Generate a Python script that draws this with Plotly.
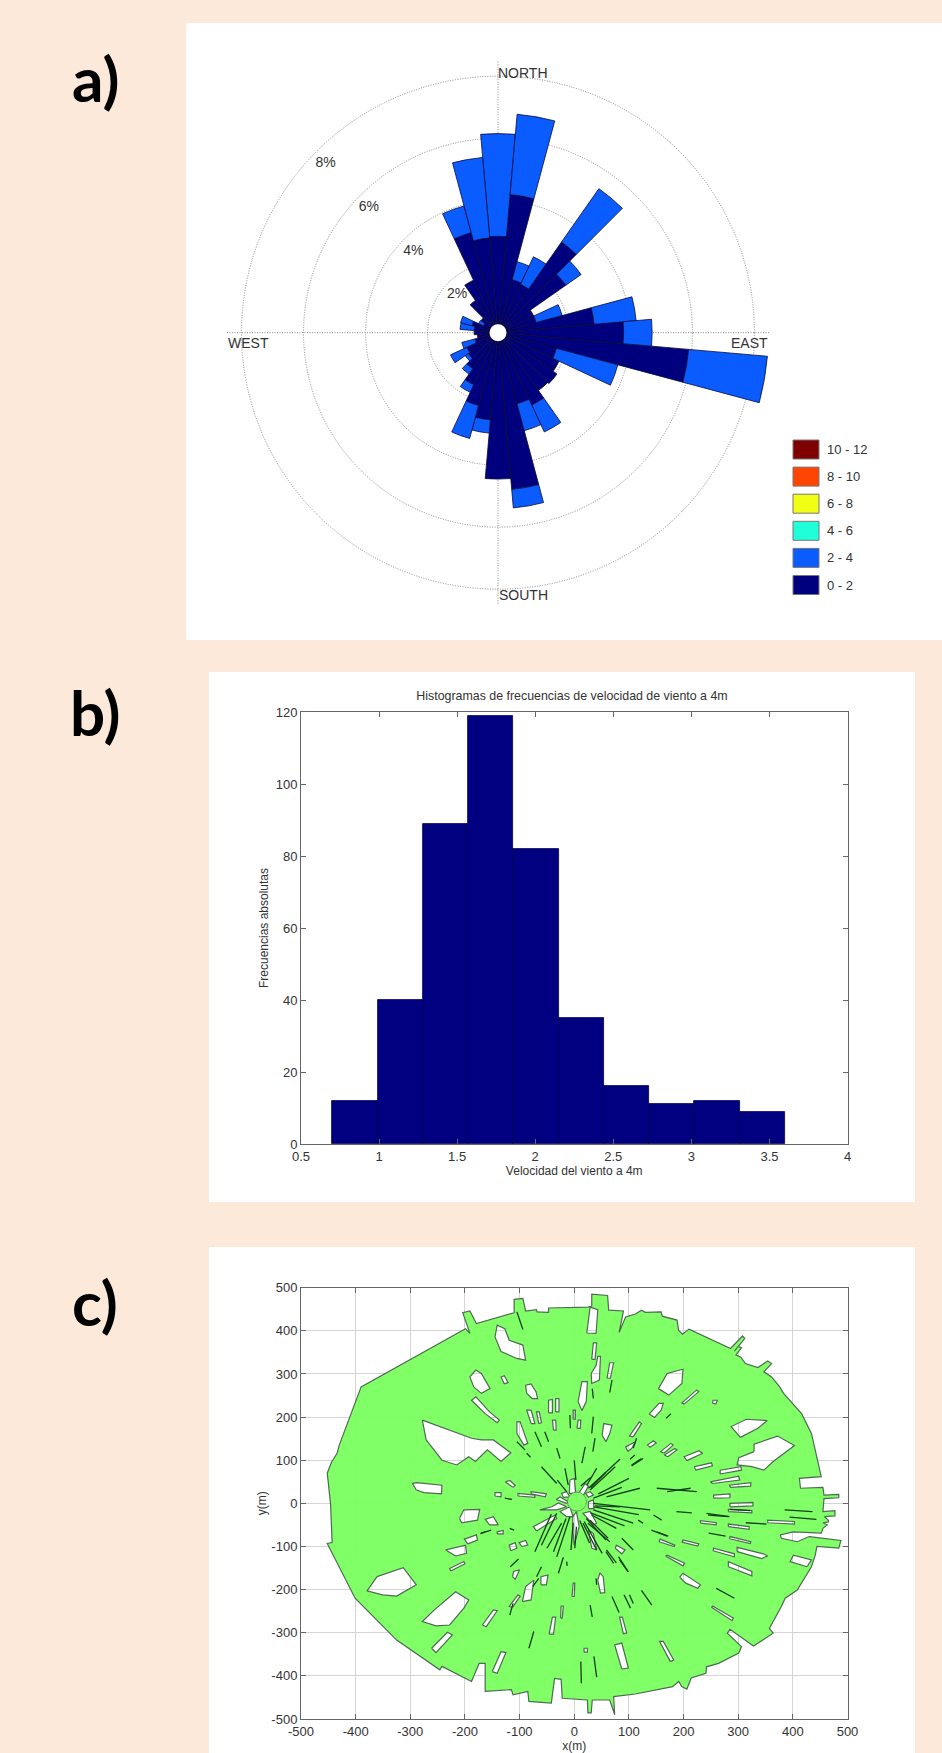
import plotly.graph_objects as go

W, H = 942, 1753
PAGE = "#FDE9D9"

# ---------- a) wind rose ----------
ROSE_DIR = [0,10,20,30,40,50,60,70,80,90,100,110,120,130,140,150,160,170,180,190,200,210,220,230,240,250,260,270,280,290,300,310,320,330,340,350]
ROSE_0_2 = [2.84,4.2,1.5,1.45,3.3,2.4,1.0,1.0,2.84,3.78,5.9,1.68,1.9,2.05,2.0,2.3,2.1,4.8,4.45,2.55,2.16,1.58,1.15,0.9,0.84,0.5,0.4,0.5,0.5,0.6,0.25,0.4,1.0,1.6,3.07,2.8]
ROSE_2_4 = [3.31,2.6,0.6,0.98,2.1,0.6,0,0.87,1.36,0.92,2.55,2.05,0,0,0,0.96,0.9,0.6,0,0.43,1.1,0.27,0.21,0.12,0.58,0.44,0,0,0.46,0.38,0.17,0,0,0,0.89,2.6]
RING_PCT = [2,4,6,8]
RING_LABEL_R = [1.53,3.52,5.52,7.52]
RING_LABEL_THETA = [313,314,314,314.5]
RING_LABELS = ["2%","4%","6%","8%"]
LEGEND_LABELS = ["10 - 12","8 - 10","6 - 8","4 - 6","2 - 4","0 - 2"]
LEGEND_COLORS = ["#7F0000","#FF4500","#F0FF14","#20FFD8","#0A5CFF","#00007F"]

# ---------- b) histogram ----------
HIST_CENTERS = [0.845,1.135,1.425,1.715,2.005,2.295,2.585,2.875,3.165,3.455]
HIST_COUNTS = [12,40,89,119,82,35,16,11,12,9]
HIST_BIN_WIDTH = 0.29

# ---------- c) viewshed map ----------
OUTLINE = [(-446,0),(-452,70),(-444,96),(-434,116),(-430,135),(-390,270),(-199,405),(-191,394),(-204,442),(-191,446),(-179,417),
(-110,442),(-110,473),(-94,475),(-89,446),(-69,449),(-68,444),(-47,443),(-47,453),(25,455),(32,457),(32,485),(61,482),(63,448),(90,446),
(82,396),(94,432),(112,439),(123,448),(130,443),(159,444),(161,434),(188,425),(191,401),(198,392),(210,404),(286,359),(308,388),(312,382),
(293,353),(300,364),(306,361),(296,344),(305,339),(313,324),(336,315),(354,330),(361,324),(347,305),(361,293),(376,270),(383,255),(416,208),
(434,162),(452,62),(412,58),(414,35),(455,37),(457,19),(484,21),(484,13),(457,11),(455,-19),(477,-17),(477,-29),(458,-31),(465,-39),(465,-43),
(455,-45),(463,-50),(455,-58),(452,-69),(401,-66),(377,-73),(379,-81),(408,-89),(430,-77),(488,-86),(484,-104),(444,-100),(441,-120),(434,-147),
(408,-201),(386,-220),(379,-239),(357,-290),(364,-301),(328,-331),(285,-292),(280,-301),(306,-332),(301,-347),(264,-371),(242,-379),(241,-394),
(214,-405),(206,-431),(197,-425),(191,-413),(180,-425),(112,-442),(72,-448),(74,-490),(65,-456),(33,-456),(31,-486),(25,-486),(24,-456),(-22,-452),
(-24,-408),(-36,-406),(-42,-463),(-83,-459),(-85,-436),(-112,-444),(-115,-432),(-163,-436),(-163,-371),(-174,-371),(-188,-413),(-242,-378),(-246,-386),
(-325,-317),(-401,-220),(-452,-93),(-443,-91)]

HOLES = [
[(-278,193),(-188,151),(-170,147),(-148,147),(-116,117),(-134,97),(-159,124),(-181,97),(-193,108),(-215,89),(-242,100),(-271,147)],
[(-141,413),(-127,405),(-119,378),(-94,367),(-89,332),(-105,336),(-134,352),(-145,386)],
[(-191,293),(-180,309),(-170,301),(-154,266),(-170,255),(-184,270)],
[(-134,293),(-128,296),(-121,280),(-128,277)],
[(-89,274),(-79,277),(-70,259),(-67,243),(-77,243),(-87,255)],
[(-188,239),(-180,247),(-155,212),(-137,193),(-141,187),(-163,208)],
[(-47,239),(-40,241),(-40,210),(-47,210)],
[(-34,243),(-28,243),(-28,212),(-34,212)],
[(14,282),(24,282),(22,236),(14,215),(7,236)],
[(35,372),(41,372),(38,334),(32,334)],
[(43,341),(48,341),(46,286),(32,278),(31,301),(40,320)],
[(65,326),(72,326),(66,290),(60,290)],
[(170,301),(199,311),(197,278),(173,251),(154,266)],
[(155,232),(163,232),(159,216),(147,199),(137,207)],
[(197,233),(224,263),(228,259),(201,230)],
[(254,239),(262,239),(259,230),(253,232)],
[(287,178),(315,195),(353,192),(336,174),(304,153)],
[(329,137),(372,156),(403,134),(364,97),(347,77),(325,85),(298,89),(301,106),(329,120)],
[(201,108),(228,122),(235,116),(206,99)],
[(220,85),(251,94),(253,87),(222,77)],
[(267,77),(305,85),(306,77),(267,68)],
[(249,50),(301,63),(303,54),(253,46)],
[(284,42),(323,48),(323,40),(286,37)],
[(255,19),(285,22),(285,13),(255,12)],
[(285,0),(327,2),(327,-6),(285,-8)],
[(282,-14),(325,-17),(325,-22),(282,-19)],
[(231,-40),(260,-45),(260,-50),(231,-46)],
[(282,-48),(320,-54),(320,-60),(282,-54)],
[(354,-39),(403,-42),(403,-48),(354,-45)],
[(285,-77),(323,-89),(322,-93),(284,-82)],
[(199,-85),(228,-94),(226,-99),(197,-90)],
[(157,-83),(184,-97),(183,-100),(155,-89)],
[(255,-104),(293,-117),(293,-124),(254,-110)],
[(298,-102),(346,-117),(354,-122),(343,-128),(298,-112)],
[(282,-135),(325,-158),(325,-168),(282,-147)],
[(170,-120),(202,-139),(199,-145),(167,-122)],
[(199,-162),(231,-189),(226,-197),(204,-185),(193,-171)],
[(253,-238),(291,-266),(289,-272),(251,-241)],
[(83,-264),(88,-264),(96,-301),(90,-303)],
[(156,-320),(163,-320),(182,-363),(176,-367)],
[(74,-328),(87,-324),(99,-382),(87,-384)],
[(47,-161),(53,-170),(56,-207),(48,-208),(43,-178)],
[(-2,-185),(1,-185),(0,-216),(-4,-216)],
[(-24,-238),(-20,-238),(-22,-266),(-25,-266)],
[(-40,-264),(-34,-264),(-38,-303),(-46,-303)],
[(-148,-247),(-141,-249),(-161,-286),(-168,-282)],
[(-232,-299),(-223,-305),(-253,-346),(-261,-336)],
[(-134,-344),(-125,-346),(-141,-394),(-150,-390)],
[(-217,-205),(-193,-224),(-202,-243),(-228,-282),(-253,-284),(-278,-274),(-256,-247)],
[(-313,-149),(-289,-189),(-325,-215),(-351,-212),(-379,-203),(-361,-170)],
[(-296,46),(-289,48),(-242,42),(-243,22),(-275,25),(-289,31)],
[(-202,-15),(-173,-14),(-177,-39),(-206,-45),(-210,-35)],
[(-163,-37),(-148,-31),(-139,-50),(-155,-50)],
[(-235,-108),(-199,-97),(-197,-116),(-217,-122)],
[(-201,-83),(-179,-73),(-177,-85),(-195,-94)],
[(-228,-151),(-202,-135),(-200,-140),(-226,-157)],
[(-119,-97),(-108,-91),(-105,-104),(-116,-110)],
[(-101,-91),(-89,-86),(-85,-97),(-96,-100)],
[(-145,25),(-134,25),(-134,15),(-145,17)],
[(-126,50),(-118,53),(-108,42),(-112,37)],
[(-103,23),(-72,19),(-72,14),(-103,17)],
[(-79,27),(-51,22),(-53,15),(-79,22)],
[(-111,-158),(-100,-154),(-108,-176),(-113,-170)],
[(-119,-239),(-103,-212),(-99,-215),(-113,-241)],
[(-89,-193),(-74,-178),(-79,-224),(-95,-228)],
[(-61,-170),(-48,-166),(-51,-189),(-61,-189)],
[(-141,-66),(-130,-63),(-130,-71),(-141,-71)],
[(18,-336),(24,-336),(24,-345),(18,-345)],
[(101,156),(119,189),(123,185),(108,154)],
[(134,135),(145,145),(150,140),(139,130)],
[(158,120),(177,139),(181,135),(164,116)],
[(165,112),(184,127),(188,124),(171,108)],
[(94,131),(112,143),(105,127),(98,120)],
[(54,185),(69,181),(65,162),(58,143),(51,158)],
[(-40,193),(-34,193),(-33,170),(-38,170)],
[(-105,189),(-99,189),(-85,139),(-92,135),(-105,162)],
[(-87,216),(-79,216),(-72,185),(-79,185)],
[(-69,212),(-64,212),(-60,187),(-65,185)],
[(-2,216),(2,216),(2,195),(-2,195)],
[(7,193),(12,193),(11,174),(5,174)],
[(29,455),(43,449),(40,394),(23,395)],
[(395,-135),(401,-120),(434,-131),(426,-147)],
# white slivers round the centre
[(-9,23),(-8,54),(0,58),(3,23)],
[(8,23),(20,46),(26,40),(17,19)],
[(-23,23),(-14,27),(-8,15),(-20,14)],
[(-33,9),(-26,15),(-11,4),(-14,0)],
[(-63,-15),(-41,-8),(-29,1),(-14,-8),(-32,-15)],
[(-26,-19),(-8,-8),(-2,-31),(-14,-31)],
[(-75,-54),(-35,-27),(-32,-35),(-69,-64)],
[(-3,-31),(4,-19),(9,-54),(0,-97),(-2,-70)],
[(16,-23),(29,-19),(41,-46),(35,-50)],
[(26,4),(35,8),(36,-12),(26,-12)],
[(21,23),(29,27),(35,19),(26,14)],
[(26,-62),(35,-70),(41,-108),(32,-104)],
[(77,-97),(93,-108),(87,-117),(75,-104)],
]
CENTER_DISC = (5,4)

STREAKS = [(-105,444,-94,403),(69,286,65,257),(33,266,35,243),(168,197,177,208),(260,-197,293,-220),(123,-202,142,-236),(69,-216,82,-253),
(91,-212,103,-243),(101,-212,108,-232),(29,-236,33,-263),(12,-367,13,-417),(36,-355,41,-403),(-74,-297,-83,-336),(-112,-232,-118,-259),
(385,-15,436,-19),(394,-32,443,-37),(314,-45,352,-48),(246,-69,277,-76),(187,-19,215,-22),(245,-27,282,-31),(285,-14,322,-17),(242,-23,284,-31),(141,-62,170,-76),
(151,35,224,27),(170,27,213,35),(35,0,139,-15),(38,-6,84,-8),(35,-15,108,-46),(32,-27,77,-58),(29,-39,62,-81),(25,-46,65,-89),(18,-42,51,-116),(58,-112,72,-139),(83,-131,98,-158),
(-32,-23,-60,-97),(-8,-31,-32,-124),(-23,-46,-50,-104),(4,-54,1,-104),(16,-46,41,-108),(59,-108,77,-138),(81,-124,99,-159),(87,-81,108,-108),
(-20,-125,-29,-162),(-60,-147,-69,-170),(-102,-129,-117,-147),(-14,-135,-13,-145),(-163,-66,-172,-70),(-118,-58,-110,-62),(-127,12,-114,9),
(-60,85,-32,46),(0,100,3,54),(-17,81,-11,42),(-31,54,-14,27),(84,103,26,35),(75,85,29,31),(41,81,23,42),(87,37,35,12),(120,35,59,15),
(145,-27,160,-39),(151,-66,172,-76),(117,-39,126,-46),
(-105,143,-90,124),(-72,166,-60,131),(-54,166,-47,143),(-8,205,-7,174),(35,201,32,162),(38,151,34,120),(20,131,14,93),(-32,128,-26,104),
(114,151,108,128),(126,104,105,87),(111,112,102,102),(123,104,105,89),(-87,116,-80,107),(-170,-69,-152,-62),(-76,-193,-65,-174),(40,-174,41,-189),
(-42,-25,-72,-112),(-15,-35,-38,-112),(-2,-45,-6,-108),(10,-40,28,-92),(22,-35,58,-85),(30,-22,92,-52),(36,-8,118,-26),(30,60,12,40),(58,72,30,36),(100,58,44,22)]

AXIS_TICKS = [-500,-400,-300,-200,-100,0,100,200,300,400,500]
AXIS_LABELS = ["-500","-400","-300","-200","-100","0","100","200","300","400","500"]
HIST_XTICKS = [0.5,1,1.5,2,2.5,3,3.5,4]
HIST_XLABELS = ["0.5","1","1.5","2","2.5","3","3.5","4"]
HIST_YTICKS = [0,20,40,60,80,100,120]


def px(x):
    return x / W

def py(y):
    return 1 - y / H

def signed_area(poly):
    return sum(poly[i][0]*poly[(i+1) % len(poly)][1] - poly[(i+1) % len(poly)][0]*poly[i][1] for i in range(len(poly)))

fig = go.Figure()

# rose
fig.add_trace(go.Barpolar(theta=ROSE_DIR, r=ROSE_0_2, width=10, marker=dict(color="#00007F", line=dict(color="#0a0a30", width=0.8)), showlegend=False))
fig.add_trace(go.Barpolar(theta=ROSE_DIR, r=ROSE_2_4, width=10, marker=dict(color="#0A5CFF", line=dict(color="#0a0a40", width=0.8)), showlegend=False))
fig.add_trace(go.Scatterpolar(r=[-0.27], theta=[0], mode="markers", marker=dict(size=17, color="white", line=dict(width=0)), showlegend=False))
fig.add_trace(go.Scatterpolar(r=RING_LABEL_R, theta=RING_LABEL_THETA, mode="text", text=RING_LABELS,
                              textfont=dict(family="Liberation Sans", size=14, color="#333333"), showlegend=False))

# histogram
fig.add_trace(go.Bar(x=HIST_CENTERS, y=HIST_COUNTS, width=HIST_BIN_WIDTH, xaxis="x", yaxis="y",
                     marker=dict(color="#000080", line=dict(color="#000050", width=0.8)), showlegend=False))

# map: outline with holes wound the opposite way
sign = signed_area(OUTLINE) > 0
mx, my = [], []
for poly in [OUTLINE] + HOLES:
    pts = poly if poly is OUTLINE or (signed_area(poly) > 0) != sign else poly[::-1]
    mx += [p[0] for p in pts] + [pts[0][0], None]
    my += [p[1] for p in pts] + [pts[0][1], None]
fig.add_trace(go.Scatter(x=mx, y=my, mode="lines", fill="toself", fillcolor="rgba(120,255,94,0.94)",
                         line=dict(color="#4e6a52", width=1.2), xaxis="x2", yaxis="y2", showlegend=False))
sx, sy = [], []
for s in STREAKS:
    sx += [s[0], s[2], None]
    sy += [s[1], s[3], None]
fig.add_trace(go.Scatter(x=sx, y=sy, mode="lines", line=dict(color="#123f18", width=1.3), xaxis="x2", yaxis="y2", showlegend=False))
fig.add_trace(go.Scatter(x=[CENTER_DISC[0]], y=[CENTER_DISC[1]], mode="markers", marker=dict(size=19, color="#80FF66", line=dict(color="#4e6a52", width=0.6)),
                         xaxis="x2", yaxis="y2", showlegend=False))

# white panels
shapes = []
for x0, y0, x1, y1 in [(186,23,942,640),(209,672,915,1202),(209,1247,915,1753)]:
    shapes.append(dict(type="rect", xref="paper", yref="paper", x0=px(x0), x1=px(x1), y0=py(y0), y1=py(y1), fillcolor="white", line=dict(width=0), layer="below"))

ann = []
def label(x, y, text, size, color="#333333", family="Liberation Sans", xanchor="center"):
    ann.append(dict(xref="paper", yref="paper", x=px(x), y=py(y), text=text, showarrow=False, xanchor=xanchor, yanchor="middle",
                    font=dict(size=size, color=color, family=family)))

for x, y, t in [(523,73,"NORTH"),(749,343,"EAST"),(523,595,"SOUTH"),(248,343,"WEST")]:
    label(x, y, t, 14)
for (x, y, t) in [(95,78,"<b>a)</b>"),(95,712,"<b>b)</b>"),(95,1302,"<b>c)</b>")]:
    label(x, y, t, 62, color="black", family="Lato")

# rose legend keys
for i, (t, c) in enumerate(zip(LEGEND_LABELS, LEGEND_COLORS)):
    yc = 449.5 + i * 27.1
    shapes.append(dict(type="rect", xref="paper", yref="paper", x0=px(793), x1=px(819), y0=py(yc-9.5), y1=py(yc+9.5), fillcolor=c, line=dict(color="#777777", width=1)))
    label(825, yc, t, 13, xanchor="left")

CX, CY, R = 498, 332.7, 272
axfont = dict(family="Liberation Sans", size=13, color="#333333")
def axis(**kw):
    return dict(showline=True, linecolor="#666666", linewidth=1, mirror="ticks", ticks="inside", ticklen=5, tickcolor="#666666", tickfont=axfont, zeroline=False, anchor=kw.pop("anchor"), **kw)

fig.update_layout(
    width=W, height=H, margin=dict(l=0, r=0, t=0, b=0, autoexpand=False), paper_bgcolor=PAGE, plot_bgcolor="white",
    shapes=shapes, annotations=ann, showlegend=False, bargap=0,
    polar=dict(domain=dict(x=[px(CX-R), px(CX+R)], y=[py(CY+R), py(CY-R)]), bgcolor="white", barmode="stack", bargap=0,
               radialaxis=dict(range=[-0.27, 8.5], tickvals=RING_PCT, showticklabels=False, ticks="", showline=False, gridcolor="#8a8a8a", griddash="1px,1.5px", gridwidth=1),
               angularaxis=dict(direction="clockwise", rotation=90, tickvals=[0,90,180,270], showticklabels=False, ticks="", showline=False, gridcolor="#8a8a8a", griddash="1px,1.5px", gridwidth=1)),
    title=dict(text="Histogramas de frecuencias de velocidad de viento a 4m", x=px(572), xanchor="center", y=py(696), yanchor="middle",
               font=dict(family="Liberation Sans", size=12.4, color="#333333")),
    xaxis=axis(anchor="y", domain=[px(301), px(847.5)], range=[0.5,4], tickvals=HIST_XTICKS, ticktext=HIST_XLABELS, showgrid=False,
               title=dict(text="Velocidad del viento a 4m", font=dict(family="Liberation Sans", size=12, color="#333333"), standoff=4)),
    yaxis=axis(anchor="x", domain=[py(1144), py(712)], range=[0,120], tickvals=HIST_YTICKS, showgrid=False,
               title=dict(text="Frecuencias absolutas", font=dict(family="Liberation Sans", size=12, color="#333333"), standoff=4)),
    xaxis2=axis(anchor="y2", domain=[px(301), px(847.5)], range=[-500,500], tickvals=AXIS_TICKS, ticktext=AXIS_LABELS, showgrid=True, gridcolor="#d4d4d4",
                title=dict(text="x(m)", font=dict(family="Liberation Sans", size=12, color="#333333"), standoff=0)),
    yaxis2=axis(anchor="x2", domain=[py(1719), py(1287.7)], range=[-500,500], tickvals=AXIS_TICKS, ticktext=AXIS_LABELS, showgrid=True, gridcolor="#d4d4d4",
                title=dict(text="y(m)", font=dict(family="Liberation Sans", size=12, color="#333333"), standoff=2)),
)

fig.write_html("out.html", config={"displayModeBar": False}, post_script="document.body.style.margin='0';document.body.style.background='%s';" % PAGE)
